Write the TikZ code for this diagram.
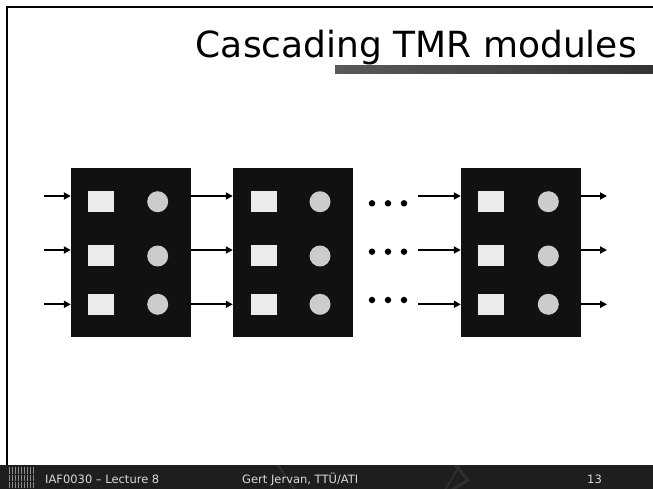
\documentclass[tikz,border=0pt]{standalone}
\usepackage{fontspec}
\setmainfont{DejaVu Sans}
\usetikzlibrary{arrows.meta}
\definecolor{modfill}{HTML}{111111}
\definecolor{sqfill}{HTML}{EBEBEB}
\definecolor{circfill}{HTML}{CCCCCC}
\definecolor{footbg}{HTML}{1E1E1E}
\definecolor{foottext}{HTML}{DADADA}
\definecolor{footline}{HTML}{2E2E2E}
\begin{document}
\begin{tikzpicture}[x=1pt,y=-1pt,
  module/.style={fill=modfill, draw=none, minimum width=120pt, minimum height=169pt, inner sep=0pt},
  sq/.style={fill=sqfill, minimum width=26pt, minimum height=21pt, inner sep=0pt},
  circ/.style={circle, fill=circfill, minimum size=21pt, inner sep=0pt},
  dotnode/.style={circle, fill=black, minimum size=6.5pt, inner sep=0pt},
  sig/.style={line width=2pt, -{Triangle[length=7pt,width=7pt]}},
  foot/.style={text=foottext, font=\fontsize{11.5}{13}\selectfont, anchor=base west, inner sep=0pt}]
\useasboundingbox (0,0) rectangle (653,488);
\fill[white] (-3,-3) rectangle (656,491);
% frame
\draw[line width=2.2pt] (7,465) -- (7,7) -- (656,7);
% title
\node[anchor=base east, inner sep=0pt, font=\fontsize{36}{42}\selectfont] (title) at (637,57) {Cascading TMR modules};
\shade[left color=black!65, right color=black!80] (335,65) rectangle (656,73);
% footer
\fill[footbg] (-3,465) rectangle (656,491);
\begin{scope}
\clip (0,465) rectangle (653,488);
\draw[footline, line width=3pt] (455,465) -- (468,480) -- (452,490);
\draw[footline, line width=2pt] (278,465) -- (295,490);
\draw[footline, line width=2pt] (460,465) -- (445,490);
\end{scope}
\foreach \i in {0,...,8} \draw[black!45, line width=1pt] (9+3*\i,467) -- (9+3*\i,488);
\draw[footbg, line width=1pt] (8,474) -- (35,474);
\draw[footbg, line width=1pt] (8,481) -- (35,481);
\node[foot] (ft1) at (45,483) {IAF0030 – Lecture 8};
\node[foot] (ft2) at (242,483) {Gert Jervan, TTÜ/ATI};
\node[foot] (ft3) at (587,483) {13};
% modules
\node[module] (b1) at (131,252.5) {};
\node[module] (b2) at (293,252.5) {};
\node[module] (b3) at (521,252.5) {};
\foreach \b/\sx/\cx in {1/101/157.7, 2/263.5/320, 3/491/548.3}{
  \node[sq] (s\b a) at (\sx,201.3) {};
  \node[sq] (s\b b) at (\sx,255.5) {};
  \node[sq] (s\b c) at (\sx,304.5) {};
  \node[circ] (c\b a) at (\cx,201.7) {};
  \node[circ] (c\b b) at (\cx,256) {};
  \node[circ] (c\b c) at (\cx,304.3) {};
}
% dots
\foreach \r/\y in {a/203.3, b/251.7, c/300}{
  \node[dotnode] (d1\r) at (372,\y) {};
  \node[dotnode] (d2\r) at (388,\y) {};
  \node[dotnode] (d3\r) at (404,\y) {};
}
% arrows
\foreach \r/\y in {a/196, b/250, c/304.3}{
  \coordinate (in\r) at (44,\y);
  \coordinate (m\r) at (418,\y);
  \coordinate (out\r) at (607,\y);
  \draw[sig] (in\r) -- (b1.west |- in\r);
  \draw[sig] (b1.east |- in\r) -- (b2.west |- in\r);
  \draw[sig] (m\r) -- (b3.west |- m\r);
  \draw[sig] (b3.east |- out\r) -- (out\r);
}
\end{tikzpicture}
\end{document}
